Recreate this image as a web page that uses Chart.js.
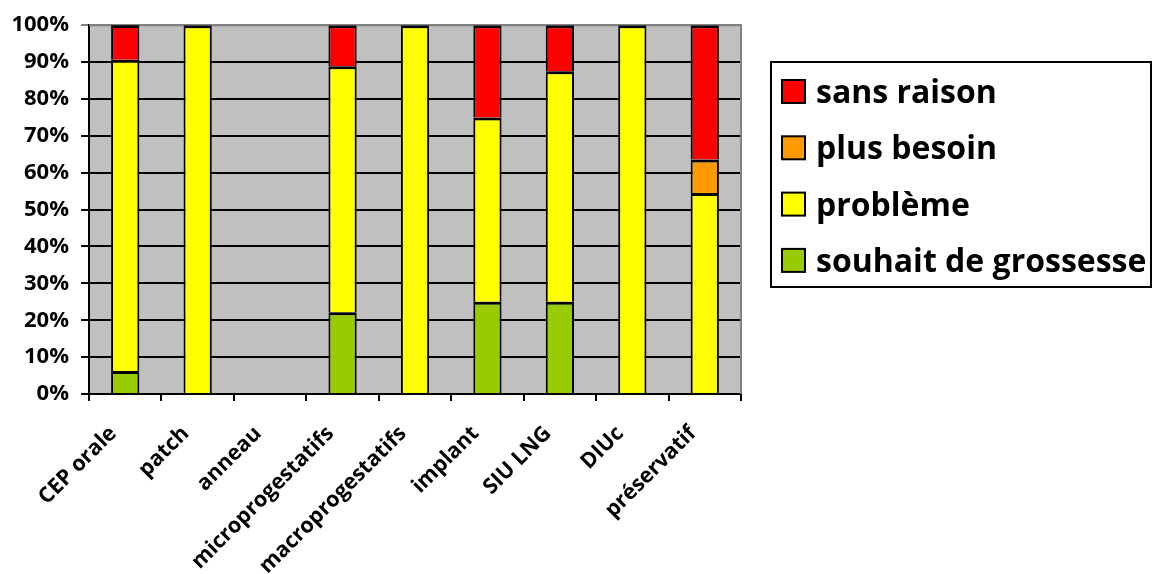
<!DOCTYPE html>
<html>
<head>
<meta charset="utf-8">
<script src="https://cdn.jsdelivr.net/npm/chart.js@4/dist/chart.umd.min.js"></script>
<style>
  html, body { margin: 0; padding: 0; background: #ffffff; }
  #wrap { width: 1155px; height: 574px; }
</style>
</head>
<body>
<div id="wrap"><canvas id="chart" width="1155" height="574"></canvas></div>
<script>
// Methods of contraception and the reasons they were stopped (share per method, %)
const categories = ['CEP orale', 'patch', 'anneau', 'microprogestatifs', 'macroprogestatifs', 'implant', 'SIU LNG', 'DIUc', 'préservatif'];
const souhaitGrossesse = [6.25, 0, 0, 22.2, 0, 25, 25, 0, 0];
const probleme        = [84.4, 100, 0, 66.7, 100, 50, 62.5, 100, 54.5];
const plusBesoin      = [0, 0, 0, 0, 0, 0, 0, 0, 9.1];
const sansRaison      = [9.4, 0, 0, 11.1, 0, 25, 12.5, 0, 36.4];
const yTicks = [0, 10, 20, 30, 40, 50, 60, 70, 80, 90, 100];

const FONT = "'Open Sans', 'DejaVu Sans', sans-serif";

// Grey plot area with a darker frame on its top and right edges
const plotArea = {
  id: 'plotArea',
  beforeDraw(chart) {
    const { ctx, chartArea: a } = chart;
    ctx.save();
    ctx.fillStyle = '#C0C0C0';
    ctx.fillRect(a.left, a.top, a.right - a.left, a.bottom - a.top);
    ctx.restore();
  },
  beforeDatasetsDraw(chart) {
    const { ctx, chartArea: a } = chart;
    ctx.save();
    ctx.strokeStyle = '#808080';
    ctx.lineWidth = 2;
    ctx.beginPath();
    ctx.moveTo(a.left, a.top);
    ctx.lineTo(a.right, a.top);
    ctx.lineTo(a.right, a.bottom);
    ctx.stroke();
    ctx.restore();
  }
};

// Boxed legend at the right, top series first
const boxLegend = {
  id: 'boxLegend',
  afterDraw(chart) {
    const { ctx } = chart;
    const box = { x: 771, y: 62, w: 380, h: 225 };
    ctx.save();
    ctx.strokeStyle = '#000000';
    ctx.lineWidth = 2;
    ctx.strokeRect(box.x, box.y, box.w, box.h);
    const items = chart.data.datasets.slice().reverse();
    const sw = 23, rowGap = 56.3, firstBottom = 103;
    ctx.font = `bold 32px ${FONT}`;
    ctx.textAlign = 'left';
    ctx.textBaseline = 'alphabetic';
    items.forEach((ds, i) => {
      const bottom = firstBottom + i * rowGap;
      ctx.fillStyle = ds.backgroundColor;
      ctx.fillRect(782, bottom - sw, sw, sw);
      ctx.lineWidth = 2;
      ctx.strokeStyle = '#000000';
      ctx.strokeRect(782, bottom - sw, sw, sw);
      ctx.fillStyle = '#000000';
      ctx.fillText(ds.label, 816, bottom);
    });
    ctx.restore();
  }
};

const barStyle = {
  borderColor: '#000000',
  borderWidth: { top: 3, left: 2, right: 2, bottom: 0 },
  borderSkipped: false,
  barPercentage: 0.39,
  categoryPercentage: 1.0
};

new Chart(document.getElementById('chart'), {
  type: 'bar',
  data: {
    labels: categories,
    datasets: [
      { label: 'souhait de grossesse', data: souhaitGrossesse, backgroundColor: '#99CC00', ...barStyle },
      { label: 'problème', data: probleme, backgroundColor: '#FFFF00', ...barStyle },
      { label: 'plus besoin', data: plusBesoin, backgroundColor: '#FF9900', ...barStyle },
      { label: 'sans raison', data: sansRaison, backgroundColor: '#FF0000', ...barStyle }
    ]
  },
  options: {
    responsive: false,
    animation: false,
    devicePixelRatio: 1,
    layout: { padding: { top: 24, right: 414, bottom: 0, left: 0 } },
    plugins: { legend: { display: false }, tooltip: { enabled: false } },
    scales: {
      x: {
        stacked: true,
        grid: { offset: true, drawOnChartArea: false, color: '#000000', lineWidth: 2, tickLength: 7 },
        border: { color: '#000000', width: 2 },
        ticks: {
          autoSkip: false, minRotation: 45, maxRotation: 45,
          labelOffset: -12, padding: 20,
          color: '#000000', font: { family: FONT, size: 21.5, weight: 'bold' }
        },
        afterFit(scale) { scale.height = 180; }
      },
      y: {
        stacked: true,
        min: 0, max: 100,
        afterBuildTicks(scale) { scale.ticks = yTicks.map(v => ({ value: v })); },
        grid: {
          color: ctx => (ctx.tick && ctx.tick.value === 100 ? '#808080' : '#000000'),
          lineWidth: 2, tickLength: 8
        },
        border: { color: '#000000', width: 2 },
        ticks: {
          padding: 12,
          color: '#000000', font: { family: FONT, size: 22, weight: 'bold' },
          callback: v => v + '%'
        },
        afterFit(scale) { scale.width = 89; }
      }
    }
  },
  plugins: [plotArea, boxLegend]
});
</script>
</body>
</html>
